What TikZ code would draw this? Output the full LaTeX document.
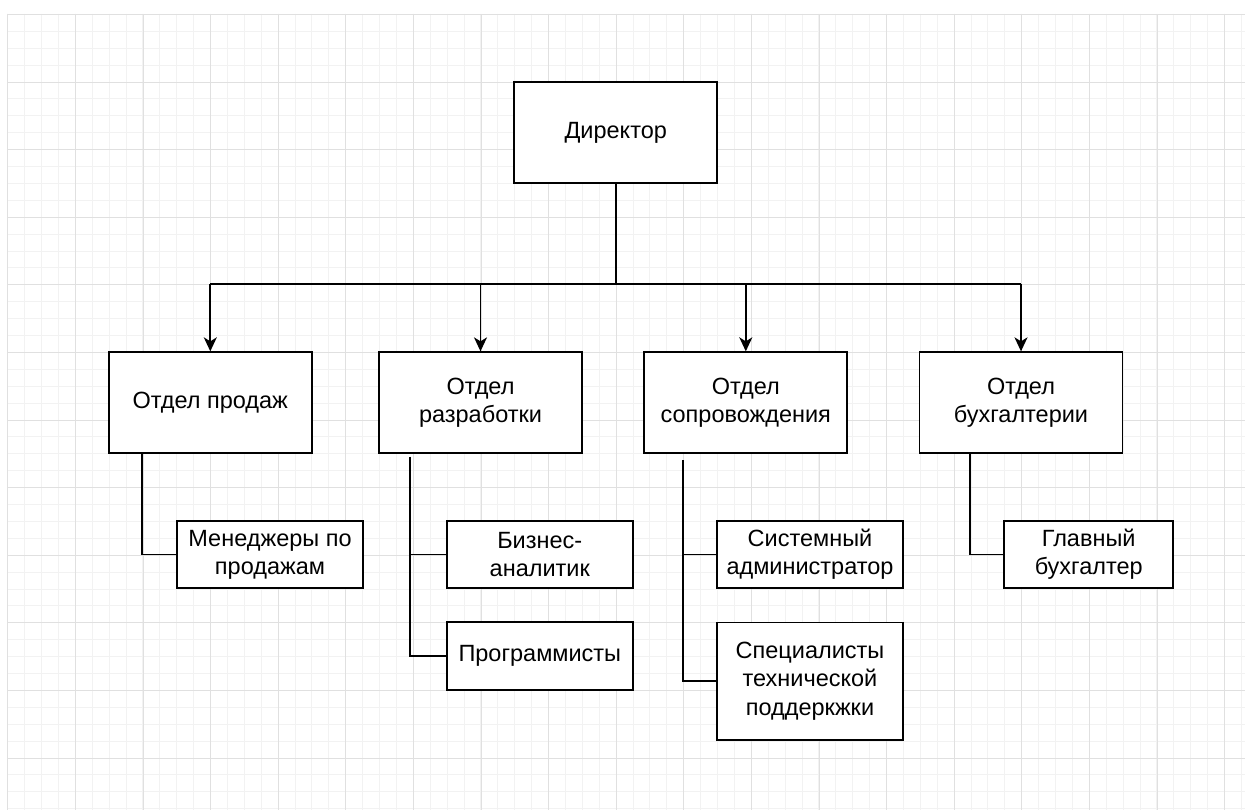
\documentclass[tikz,border=0pt]{standalone}
\usepackage{fontspec}
\setmainfont{Liberation Sans}
\usetikzlibrary{arrows.meta}

\begin{document}
\begin{tikzpicture}[
  x=1pt, y=-1pt,
  font=\fontsize{23.5}{28.2}\selectfont,
  dept/.style={draw, line width=1.7pt, fill=white, minimum width=203pt, minimum height=101pt, align=center, inner sep=0pt},
  staff/.style={draw, line width=1.7pt, fill=white, minimum width=186pt, minimum height=67.6pt, align=center, inner sep=0pt},
  link/.style={line width=1.7pt},
  arr/.style={-{Stealth[length=14pt, width=13pt, inset=4pt]}, line width=1.7pt},
  minorln/.style={black!5, line width=1.4pt},
  majorln/.style={black!12, line width=1.6pt}
]
\useasboundingbox (0,0) rectangle (1245,810);
\fill[white] (0,0) rectangle (1245,810);

% grid
\foreach \i in {0,...,73} \draw[minorln] ({round(7.3+16.9*\i)+0.5},14) -- ({round(7.3+16.9*\i)+0.5},810);
\foreach \j in {0,...,47} \draw[minorln] (7.3,{round(14+16.9*\j)+0.5}) -- (1245,{round(14+16.9*\j)+0.5});
\foreach \i in {0,...,18} \draw[majorln] ({round(7.3+67.6*\i)+0.5},14) -- ({round(7.3+67.6*\i)+0.5},810);
\foreach \j in {0,...,11} \draw[majorln] (7.3,{round(14+67.6*\j)+0.5}) -- (1245,{round(14+67.6*\j)+0.5});

% top
\node[dept] (dir) at (615.7,132.7) {Директор};

% departments
\node[dept] (sales) at (210.3,402.7) {Отдел продаж};
\node[dept] (dev) at (480.5,402.7) {Отдел\\разработки};
\node[dept] (sup) at (745.8,402.7) {Отдел\\сопровождения};
\node[dept] (acc) at (1021,402.7) {Отдел\\бухгалтерии};

% staff
\node[staff] (mgr) at (270,554.5) {Менеджеры по\\продажам};
\node[staff] (ba) at (539.8,554.5) {Бизнес-\\аналитик};
\node[staff] (prog) at (539.8,656) {Программисты};
\node[staff] (sys) at (810,554.5) {Системный\\администратор};
\node[staff, minimum height=117.7pt] (tech) at (810,681.2) {Специалисты\\технической\\поддеркжки};
\node[staff, minimum width=169pt] (chief) at (1088.7,554.5) {Главный\\бухгалтер};

% director to departments
\coordinate (bus) at (615.7,284.3);
\draw[link] (dir.south) -- (bus);
\draw[link] (bus -| sales) -- (bus -| acc);
\foreach \d in {sales,dev,sup,acc}
  \draw[arr] (bus -| \d) -- (\d.north);

% departments to staff
\coordinate (s1) at (141.7,453.3);
\coordinate (d1) at (410,456.7);
\coordinate (p1) at (683.3,460);
\coordinate (a1) at (970,453.3);
\draw[link] (s1) |- (mgr.west);
\draw[link] (d1) |- (prog.west);
\draw[link] (d1 |- ba.west) -- (ba.west);
\draw[link] (p1) |- (tech.west);
\draw[link] (p1 |- sys.west) -- (sys.west);
\draw[link] (a1) |- (chief.west);

\end{tikzpicture}
\end{document}
